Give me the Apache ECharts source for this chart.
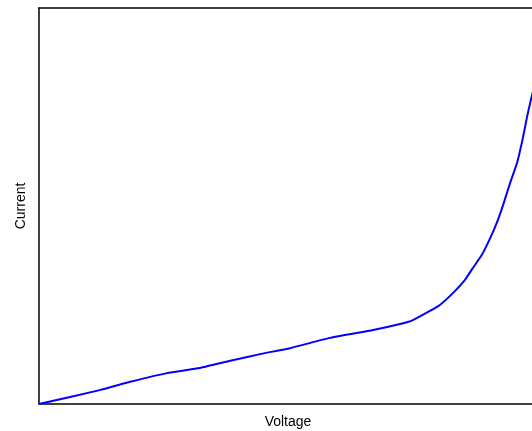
<!DOCTYPE html>
<html>
<head>
<meta charset="utf-8">
<script src="https://cdn.jsdelivr.net/npm/echarts@6/dist/echarts.min.js"></script>
<style>html,body{margin:0;padding:0;background:#fff}#c{width:532px;height:431px}</style>
</head>
<body>
<div id="c"></div>
<script>
var voltage = [0, 12.2, 18.3, 25.7, 32.3, 38.4, 44.4, 50.4, 58.4, 67.1, 72.5, 75.1, 78.5, 80.5, 83.1, 85.5, 87.1, 88.9, 90.6, 92.0, 93.2, 94.6, 96.0, 97.2, 98.0, 99.0, 99.6];
var current = [0, 3.5, 5.6, 7.8, 9.1, 10.9, 12.6, 14.1, 16.7, 18.7, 20.2, 21.2, 23.5, 25.0, 28.0, 31.3, 34.3, 37.6, 41.9, 46.0, 50.3, 55.8, 60.9, 67.4, 72.5, 78.0, 80.6];
var xName = 'Voltage';
var yName = 'Current';

var pts = voltage.map(function (v, i) { return [v, current[i]]; });
var lineAxis = {show: true, lineStyle: {color: '#000', width: 1.5}};
var nameStyle = {fontFamily: 'Liberation Sans', fontSize: 14, color: '#000'};
var chart = echarts.init(document.getElementById('c'), null, {renderer: 'canvas'});
chart.setOption({
  animation: false,
  grid: {left: 39, top: 8, width: 498, height: 396, show: false, outerBoundsMode: 'none', containLabel: false},
  xAxis: [{
    type: 'value', min: 0, max: 100, position: 'bottom',
    name: xName, nameLocation: 'middle', nameGap: 11, nameTextStyle: nameStyle,
    axisLine: lineAxis, axisTick: {show: false}, axisLabel: {show: false}, splitLine: {show: false}
  }, {
    type: 'value', min: 0, max: 100, position: 'top',
    axisLine: lineAxis, axisTick: {show: false}, axisLabel: {show: false}, splitLine: {show: false}
  }],
  yAxis: {
    type: 'value', min: 0, max: 100,
    name: yName, nameLocation: 'middle', nameGap: 11, nameRotate: 90, nameTextStyle: nameStyle,
    axisLine: lineAxis, axisTick: {show: false}, axisLabel: {show: false}, splitLine: {show: false}
  },
  series: [{
    type: 'line', data: pts, showSymbol: false, smooth: 0.15,
    lineStyle: {color: '#0000ff', width: 2, join: 'round'}
  }]
});
</script>
</body>
</html>
